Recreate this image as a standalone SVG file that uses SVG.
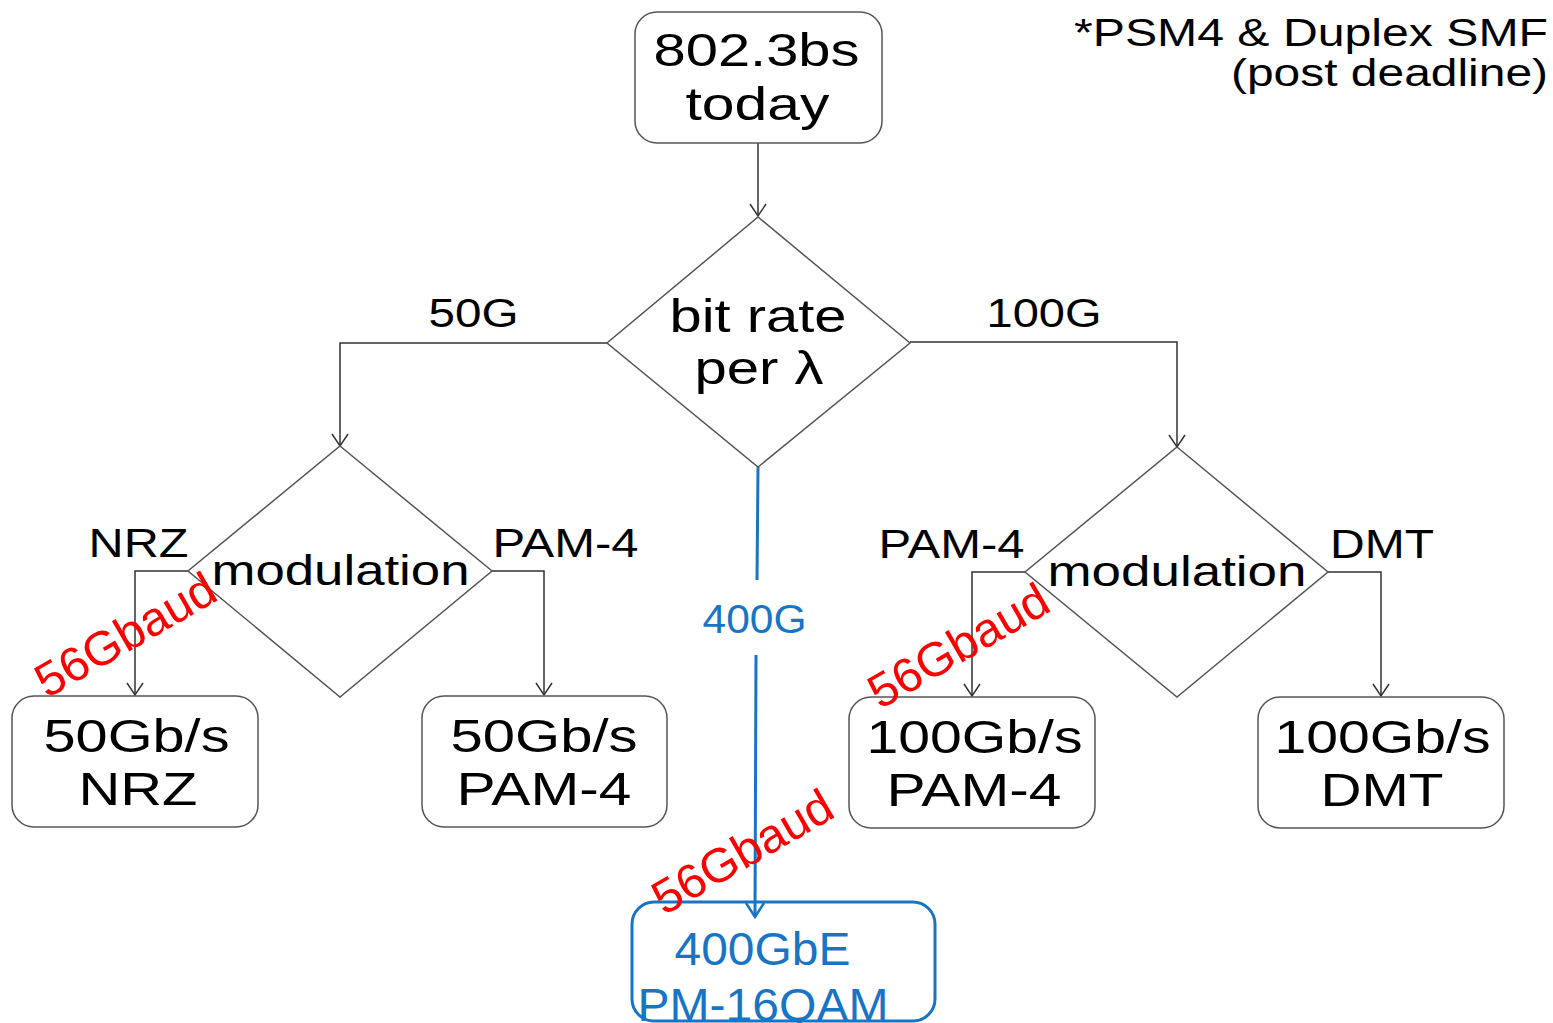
<svg xmlns="http://www.w3.org/2000/svg" width="1553" height="1023" viewBox="0 0 1553 1023">
<style>
.box{fill:#fff;stroke:#555;stroke-width:1.5}
.dia{fill:#fff;stroke:#555;stroke-width:1.5}
.ln{fill:none;stroke:#333;stroke-width:1.5}
.t{font-family:"Liberation Sans",Arial,sans-serif;fill:#000;text-anchor:middle}
.big{font-size:46px}
.mid{font-size:40px}
.red{font-family:"Liberation Sans",Arial,sans-serif;fill:#ff0000;font-size:48px}
.blue{fill:#1874c4}
</style>
<defs>
<marker id="ah" markerWidth="18" markerHeight="16" refX="9" refY="14" markerUnits="userSpaceOnUse" viewBox="0 0 18 16">
<path d="M1,2 L9,14 L17,2" fill="none" stroke="#333" stroke-width="1.5"/>
</marker>
<marker id="ahb" markerWidth="22" markerHeight="20" refX="11" refY="17" markerUnits="userSpaceOnUse" viewBox="0 0 22 20">
<path d="M2,3 L11,17 L20,3" fill="none" stroke="#1874c4" stroke-width="2.5"/>
</marker>
</defs>
<rect width="1553" height="1023" fill="#fff"/>
<g id="connectors">
<path class="ln" d="M758,143 V216" marker-end="url(#ah)"/>
<path class="ln" d="M607,343 H340 V446" marker-end="url(#ah)"/>
<path class="ln" d="M910,342 H1177 V447" marker-end="url(#ah)"/>
<path class="ln" d="M188,571 H135 V695" marker-end="url(#ah)"/>
<path class="ln" d="M492,571 H544 V695" marker-end="url(#ah)"/>
<path class="ln" d="M1025,572 H972 V696" marker-end="url(#ah)"/>
<path class="ln" d="M1328,572 H1381 V696" marker-end="url(#ah)"/>
<path d="M758,467 L757,580" fill="none" stroke="#1874c4" stroke-width="3"/>
<path d="M756,655 L755,917" fill="none" stroke="#1874c4" stroke-width="3" marker-end="url(#ahb)"/>
<text class="t mid" x="473.5" y="327" textLength="90" lengthAdjust="spacingAndGlyphs">50G</text>
<text class="t mid" x="1044" y="327" textLength="115" lengthAdjust="spacingAndGlyphs">100G</text>
<text class="t mid" x="138.5" y="557" textLength="100" lengthAdjust="spacingAndGlyphs">NRZ</text>
<text class="t mid" x="565.5" y="557" textLength="146" lengthAdjust="spacingAndGlyphs">PAM-4</text>
<text class="t mid" x="951.5" y="558" textLength="146" lengthAdjust="spacingAndGlyphs">PAM-4</text>
<text class="t mid" x="1382" y="558" textLength="104" lengthAdjust="spacingAndGlyphs">DMT</text>
<text class="t mid blue" x="754.5" y="633" textLength="104" lengthAdjust="spacingAndGlyphs">400G</text>
</g>
<g id="n-top">
<rect class="box" x="635" y="12" width="247" height="131" rx="22"/>
<text class="t big" x="756.5" y="66" textLength="206" lengthAdjust="spacingAndGlyphs">802.3bs</text>
<text class="t big" x="757.5" y="120" textLength="144" lengthAdjust="spacingAndGlyphs">today</text>
</g>
<g id="n-note">
<text class="t" style="font-size:38px;text-anchor:end" x="1548" y="46" textLength="474" lengthAdjust="spacingAndGlyphs">*PSM4 &amp; Duplex SMF</text>
<text class="t" style="font-size:38px;text-anchor:end" x="1548" y="86" textLength="317" lengthAdjust="spacingAndGlyphs">(post deadline)</text>
</g>
<g id="n-bitrate">
<polygon class="dia" points="758,217 910,343 758,467 607,343"/>
<text class="t" style="font-size:46px" x="758" y="332" textLength="177" lengthAdjust="spacingAndGlyphs">bit rate</text>
<text class="t" style="font-size:46px" x="759" y="384" textLength="129" lengthAdjust="spacingAndGlyphs">per λ</text>
</g>
<g id="n-mod50">
<polygon class="dia" points="340,446 492,571 340,697 188,571"/>
<text class="t" style="font-size:43px" x="340.5" y="585" textLength="258" lengthAdjust="spacingAndGlyphs">modulation</text>
</g>
<g id="n-mod100">
<polygon class="dia" points="1177,447 1328,572 1177,697 1025,572"/>
<text class="t" style="font-size:43px" x="1177" y="586" textLength="259" lengthAdjust="spacingAndGlyphs">modulation</text>
</g>
<g id="n-50nrz">
<rect class="box" x="12" y="696" width="246" height="131" rx="22"/>
<text class="t big" x="136.5" y="752" textLength="186" lengthAdjust="spacingAndGlyphs">50Gb/s</text>
<text class="t big" x="138" y="805" textLength="119" lengthAdjust="spacingAndGlyphs">NRZ</text>
</g>
<g id="n-50pam">
<rect class="box" x="422" y="696" width="245" height="131" rx="22"/>
<text class="t big" x="544" y="752" textLength="187" lengthAdjust="spacingAndGlyphs">50Gb/s</text>
<text class="t big" x="544" y="805" textLength="175" lengthAdjust="spacingAndGlyphs">PAM-4</text>
</g>
<g id="n-100pam">
<rect class="box" x="849" y="697" width="246" height="131" rx="22"/>
<text class="t big" x="974.5" y="753" textLength="216" lengthAdjust="spacingAndGlyphs">100Gb/s</text>
<text class="t big" x="974" y="806" textLength="175" lengthAdjust="spacingAndGlyphs">PAM-4</text>
</g>
<g id="n-100dmt">
<rect class="box" x="1258" y="697" width="246" height="131" rx="22"/>
<text class="t big" x="1382.5" y="753" textLength="216" lengthAdjust="spacingAndGlyphs">100Gb/s</text>
<text class="t big" x="1382" y="806" textLength="123" lengthAdjust="spacingAndGlyphs">DMT</text>
</g>
<g id="n-400">
<rect x="632" y="902" width="303" height="119" rx="22" fill="none" stroke="#1874c4" stroke-width="3"/>
<text class="t blue" style="font-size:47px" x="762.5" y="965" textLength="176" lengthAdjust="spacingAndGlyphs">400GbE</text>
<text class="t blue" style="font-size:47px" x="763" y="1021" textLength="251" lengthAdjust="spacingAndGlyphs">PM-16QAM</text>
</g>
<g id="baud">
<text class="red" transform="translate(47,699) rotate(-30)" textLength="200" lengthAdjust="spacingAndGlyphs">56Gbaud</text>
<text class="red" transform="translate(664,916) rotate(-30)" textLength="200" lengthAdjust="spacingAndGlyphs">56Gbaud</text>
<text class="red" transform="translate(880,710) rotate(-30)" textLength="200" lengthAdjust="spacingAndGlyphs">56Gbaud</text>
</g>
</svg>
